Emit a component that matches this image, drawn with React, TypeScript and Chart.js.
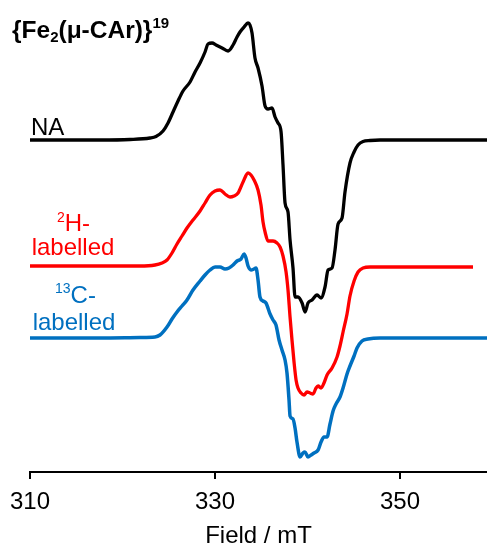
import React, { useEffect, useRef } from "react";
import { Chart, registerables } from "chart.js";

Chart.register(...registerables);

// Axis range (mT)
const FIELD_MIN = 310;
const FIELD_MAX = 359.4;
const TICK_VALUES = [310, 330, 350];
const AXIS_TITLE = "Field / mT";

// Vertical offsets of the stacked spectra (arbitrary units)
const NA_OFFSET = 332;
const H2_OFFSET = 205.5;
const C13_OFFSET = 134;

// Natural abundance spectrum
const naField = [310.0, 313.24, 317.57, 320.81, 322.97, 323.62, 324.38, 324.92, 325.46, 326.0, 326.54, 327.3, 327.84, 328.38, 328.92, 329.24, 329.68, 330.11, 330.76, 331.41, 331.95, 332.38, 332.7, 333.14, 333.57, 333.78, 334.0, 334.32, 334.65, 335.08, 335.41, 335.73, 336.16, 336.49, 336.81, 337.14, 337.35, 337.57, 337.89, 338.11, 338.43, 338.65, 338.97, 339.41, 339.73, 340.05, 340.49, 341.03, 341.46, 341.89, 342.22, 342.65, 342.97, 343.3, 343.73, 344.05, 344.59, 345.03, 345.46, 346.0, 346.76, 347.84, 352.16, 359.41];
const naSignal = [0, 0, 0, 0.5, 2, 3.5, 9, 17, 28, 39, 49, 58, 68, 77, 88, 96, 97, 95, 92, 89, 95, 103, 108, 113, 117, 115, 107, 82, 72, 54, 34, 31, 32, 23, 17, 8, -25, -63, -72, -100, -128, -157, -157, -163, -172, -163, -160, -155, -158, -147, -130, -128, -110, -84, -78, -52, -23, -12, -5, -1.5, -0.5, 0, 0, 0];

// 2H-labelled spectrum
const h2Field = [310.0, 317.57, 321.89, 323.51, 324.27, 324.81, 325.35, 325.89, 326.43, 326.97, 327.62, 328.38, 328.92, 329.46, 330.0, 330.54, 331.08, 331.62, 332.05, 332.49, 333.03, 333.57, 333.89, 334.22, 334.65, 334.97, 335.19, 335.41, 335.73, 336.27, 336.7, 337.03, 337.35, 337.68, 337.89, 338.11, 338.32, 338.54, 338.76, 338.97, 339.3, 339.62, 339.95, 340.27, 340.59, 340.92, 341.14, 341.46, 341.78, 342.11, 342.65, 343.19, 343.51, 343.84, 344.27, 344.59, 345.03, 345.46, 346.0, 346.76, 348.92, 357.89];
const h2Signal = [0.5, 0.5, 0.5, 1.5, 3.5, 6.5, 13.5, 22.5, 30.5, 38.5, 46.5, 55.5, 63.5, 71.5, 75.5, 76.5, 72.5, 69.5, 70.5, 73.5, 84.5, 93.5, 91.5, 86.5, 76.5, 61.5, 44.5, 34.5, 25.5, 25.5, 23.5, 19.5, 10.5, -5.5, -23.5, -50.5, -73.5, -95.5, -113.5, -121.5, -126.5, -128.5, -125.5, -126.5, -127.5, -121.5, -119.5, -121.5, -116.5, -108.5, -101.5, -90.5, -79.5, -65.5, -47.5, -29.5, -14.5, -5.5, -1.5, -0.5, -0.5, -0.5];

// 13C-labelled spectrum
const c13Field = [310.0, 317.57, 321.89, 323.51, 324.05, 324.81, 325.35, 325.89, 326.43, 326.97, 327.62, 328.38, 328.92, 329.46, 330.0, 330.54, 331.08, 331.51, 331.95, 332.38, 332.81, 333.14, 333.35, 333.57, 333.89, 334.22, 334.43, 334.65, 334.86, 335.19, 335.51, 335.95, 336.27, 336.59, 336.92, 337.24, 337.57, 337.78, 338.0, 338.11, 338.43, 338.65, 338.86, 339.19, 339.51, 339.73, 340.05, 340.38, 340.7, 341.14, 341.46, 341.78, 342.11, 342.43, 342.76, 343.08, 343.51, 343.84, 344.27, 344.59, 345.03, 345.35, 345.89, 346.54, 347.84, 359.41];
const c13Signal = [0, 0, 0.5, 1, 3, 11, 19, 26, 32, 38, 48, 57, 63, 68, 71, 71, 69, 70, 73, 77, 79, 84, 80, 72, 68, 69, 70, 58, 41, 37, 35, 24, 18, 13, -2, -12, -22, -35, -62, -78, -81, -90, -104, -119, -115, -114, -119, -117, -115, -112, -104, -99, -99, -86, -73, -66, -59, -50, -36, -28, -18, -10, -3, -1, 0, 0];

const FONT = '"Liberation Sans", Arial, Helvetica, sans-serif';

function toPoints(xs: number[], ys: number[], off: number) {
  return xs.map((x, i) => ({ x, y: ys[i] + off }));
}

function drawRuns(
  ctx: CanvasRenderingContext2D,
  runs: { t: string; size: number; dy: number; bold?: boolean }[],
  x: number,
  y: number,
  align: "left" | "center"
) {
  const widths = runs.map((r) => {
    ctx.font = `${r.bold ? "bold " : ""}${r.size}px ${FONT}`;
    return ctx.measureText(r.t).width;
  });
  const total = widths.reduce((a, b) => a + b, 0);
  let cx = align === "center" ? x - total / 2 : x;
  runs.forEach((r, i) => {
    ctx.font = `${r.bold ? "bold " : ""}${r.size}px ${FONT}`;
    ctx.fillText(r.t, cx, y + r.dy);
    cx += widths[i];
  });
}

const labelPlugin = {
  id: "spectrumLabels",
  afterDraw(chart: any) {
    const ctx: CanvasRenderingContext2D = chart.ctx;
    ctx.save();
    ctx.textAlign = "left";
    ctx.textBaseline = "alphabetic";

    ctx.fillStyle = "#000000";
    drawRuns(
      ctx,
      [
        { t: "{Fe", size: 24.5, dy: 0, bold: true },
        { t: "2", size: 15, dy: 4.5, bold: true },
        { t: "(\u03bc-CAr)}", size: 24.5, dy: 0, bold: true },
        { t: "19", size: 15, dy: -10, bold: true },
      ],
      12,
      37.5,
      "left"
    );
    drawRuns(ctx, [{ t: "NA", size: 24, dy: 0 }], 31, 135, "left");

    ctx.fillStyle = "#ff0000";
    drawRuns(
      ctx,
      [
        { t: "2", size: 14, dy: -9 },
        { t: "H-", size: 24, dy: 0 },
      ],
      73.5,
      231,
      "center"
    );
    drawRuns(ctx, [{ t: "labelled", size: 24, dy: 0 }], 73, 255, "center");

    ctx.fillStyle = "#0070c0";
    drawRuns(
      ctx,
      [
        { t: "13", size: 14, dy: -10 },
        { t: "C-", size: 24, dy: 0 },
      ],
      75.5,
      303,
      "center"
    );
    drawRuns(ctx, [{ t: "labelled", size: 24, dy: 0 }], 74, 330, "center");

    ctx.restore();
  },
};

export default function App() {
  const ref = useRef<HTMLCanvasElement | null>(null);

  useEffect(() => {
    if (!ref.current) return;
    const chart = new Chart(ref.current, {
      type: "line",
      data: {
        datasets: [
          {
            label: "NA",
            data: toPoints(naField, naSignal, NA_OFFSET),
            borderColor: "#000000",
            borderWidth: 3.3,
            pointRadius: 0,
            cubicInterpolationMode: "monotone",
            fill: false,
          },
          {
            label: "2H-labelled",
            data: toPoints(h2Field, h2Signal, H2_OFFSET),
            borderColor: "#ff0000",
            borderWidth: 3.3,
            pointRadius: 0,
            cubicInterpolationMode: "monotone",
            fill: false,
          },
          {
            label: "13C-labelled",
            data: toPoints(c13Field, c13Signal, C13_OFFSET),
            borderColor: "#0070c0",
            borderWidth: 3.5,
            pointRadius: 0,
            cubicInterpolationMode: "monotone",
            fill: false,
          },
        ],
      },
      options: {
        responsive: false,
        animation: false,
        layout: { padding: { left: 30, right: 0, top: 0, bottom: 0 } },
        plugins: {
          legend: { display: false },
          tooltip: { enabled: false },
          title: { display: false },
        },
        scales: {
          x: {
            type: "linear",
            min: FIELD_MIN,
            max: FIELD_MAX,
            border: { display: true, color: "#000000", width: 2 },
            grid: {
              display: true,
              drawOnChartArea: false,
              drawTicks: true,
              tickLength: 7,
              color: "#000000",
              lineWidth: 2,
            },
            ticks: {
              color: "#000000",
              padding: 9,
              maxRotation: 0,
              autoSkip: false,
              font: { family: FONT, size: 24 },
              callback: (v: any) => String(v),
            },
            afterBuildTicks: (scale: any) => {
              scale.ticks = TICK_VALUES.map((v) => ({ value: v }));
            },
            title: {
              display: true,
              text: AXIS_TITLE,
              color: "#000000",
              font: { family: FONT, size: 24 },
              padding: { top: 0, bottom: -3 },
            },
            afterFit: (scale: any) => {
              scale.height = 76;
              scale.paddingLeft = 0;
              scale.paddingRight = 0;
            },
          },
          y: {
            type: "linear",
            display: false,
            min: 0,
            max: 472,
          },
        },
      },
      plugins: [labelPlugin],
    });
    return () => chart.destroy();
  }, []);

  return (
    <div style={{ position: "fixed", left: 0, top: 0, width: 487, height: 548, background: "#ffffff" }}>
      <canvas ref={ref} width={487} height={548} style={{ display: "block" }} />
    </div>
  );
}
